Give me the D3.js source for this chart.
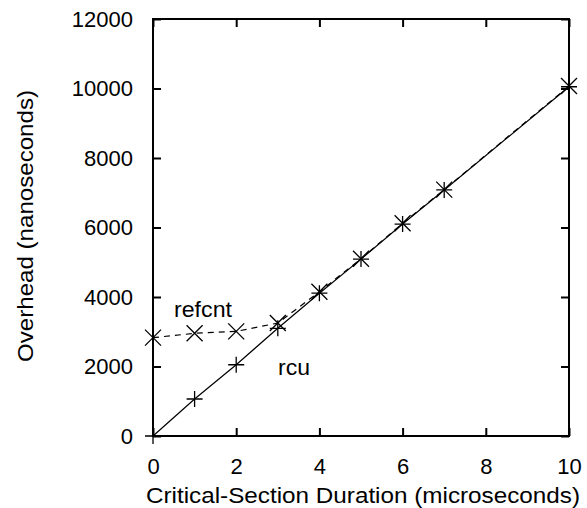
<!DOCTYPE html>
<html><head><meta charset="utf-8">
<script src="https://cdn.jsdelivr.net/npm/d3@7"></script>
<style>body{margin:0;background:#fff}svg{display:block}text{font-family:"Liberation Sans",Arial,sans-serif;fill:#000}</style>
</head><body>
<script>
const durations = [0, 1, 2, 3, 4, 5, 6, 7, 10];
const rcuOverhead = [0, 1065, 2050, 3100, 4110, 5090, 6100, 7080, 10050];
const refcntOverhead = [2830, 2955, 3010, 3250, 4150, 5100, 6120, 7090, 10070];
const xTicks = [0, 2, 4, 6, 8, 10];
const yTicks = [0, 2000, 4000, 6000, 8000, 10000, 12000];
const xTitle = "Critical-Section Duration (microseconds)";
const yTitle = "Overhead (nanoseconds)";
const seriesLabels = ["refcnt", "rcu"];

const W = 587, H = 508;
const L = 153, R = 569, T = 19, B = 436;
const svg = d3.select("body").append("svg").attr("width", W).attr("height", H);
const x = d3.scaleLinear().domain([0, 10]).range([L, R]);
const y = d3.scaleLinear().domain([0, 12000]).range([B, T]);
const tick = 8;

// frame
svg.append("rect").attr("x", L).attr("y", T).attr("width", R - L).attr("height", B - T)
  .attr("fill", "none").attr("stroke", "#000").attr("stroke-width", 2);

// axes with inward ticks
const gx = svg.append("g").attr("transform", `translate(0,${B})`)
  .call(d3.axisBottom(x).tickValues(xTicks).tickSize(-tick).tickPadding(22).tickFormat(d3.format("d")));
const gxt = svg.append("g").attr("transform", `translate(0,${T})`)
  .call(d3.axisTop(x).tickValues(xTicks).tickSize(-tick).tickFormat(""));
const gy = svg.append("g").attr("transform", `translate(${L},0)`)
  .call(d3.axisLeft(y).tickValues(yTicks).tickSize(-tick).tickPadding(20).tickFormat(d3.format("d")));
const gyr = svg.append("g").attr("transform", `translate(${R},0)`)
  .call(d3.axisRight(y).tickValues(yTicks).tickSize(-tick).tickFormat(""));
[gx, gxt, gy, gyr].forEach(g => {
  g.select(".domain").remove();
  g.selectAll("line").attr("stroke", "#000").attr("stroke-width", 2);
  g.selectAll("text").attr("font-family", "'Liberation Sans', Arial, sans-serif").attr("font-size", 22).attr("fill", "#000");
});

// lines
const line = d3.line().x(d => x(d[0])).y(d => y(d[1]));
const rcuPts = durations.map((d, i) => [d, rcuOverhead[i]]);
const refPts = durations.map((d, i) => [d, refcntOverhead[i]]);
svg.append("path").attr("d", line(rcuPts)).attr("fill", "none").attr("stroke", "#000").attr("stroke-width", 1.2);
svg.append("path").attr("d", line(refPts)).attr("fill", "none").attr("stroke", "#000").attr("stroke-width", 1.2)
  .attr("stroke-dasharray", "6,5");

// markers
const s = 8;
svg.append("g").selectAll("path").data(rcuPts).join("path")
  .attr("d", d => `M${x(d[0]) - s},${y(d[1])}H${x(d[0]) + s}M${x(d[0])},${y(d[1]) - s}V${y(d[1]) + s}`)
  .attr("stroke", "#000").attr("stroke-width", 1.3).attr("fill", "none");
svg.append("g").selectAll("path").data(refPts).join("path")
  .attr("d", d => `M${x(d[0]) - s},${y(d[1]) - s}L${x(d[0]) + s},${y(d[1]) + s}M${x(d[0]) - s},${y(d[1]) + s}L${x(d[0]) + s},${y(d[1]) - s}`)
  .attr("stroke", "#000").attr("stroke-width", 1.3).attr("fill", "none");

// series labels
svg.append("text").attr("x", 174).attr("y", 316.5).attr("font-size", 22)
  .attr("textLength", 58).attr("lengthAdjust", "spacingAndGlyphs").text(seriesLabels[0]);
svg.append("text").attr("x", 278).attr("y", 375).attr("font-size", 22)
  .attr("textLength", 32).attr("lengthAdjust", "spacingAndGlyphs").text(seriesLabels[1]);

// titles
svg.append("text").attr("x", 146).attr("y", 503)
  .attr("font-size", 22).attr("textLength", 434).attr("lengthAdjust", "spacingAndGlyphs").text(xTitle);
svg.append("text").attr("transform", `translate(33,362) rotate(-90)`)
  .attr("font-size", 22).attr("textLength", 272).attr("lengthAdjust", "spacingAndGlyphs").text(yTitle);
</script>
</body></html>
